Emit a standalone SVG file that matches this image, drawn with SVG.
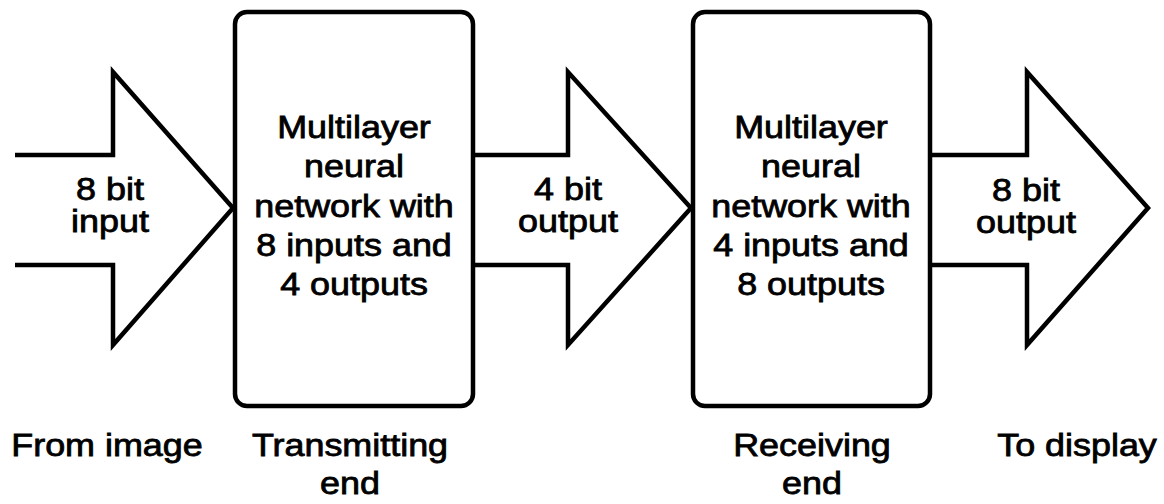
<svg xmlns="http://www.w3.org/2000/svg" width="1164" height="504" viewBox="0 0 1164 504">
  <style>
    .shape { fill: none; stroke: #000; stroke-width: 4.5; stroke-linejoin: miter; }
    .box { fill: #fff; stroke: #000; stroke-width: 4.5; }
    .lbl { font-family: "Liberation Sans", Arial, sans-serif; font-size: 31.5px; fill: #000; stroke: #000; stroke-width: 0.8; text-anchor: middle; }
  </style>
  <rect width="1164" height="504" fill="#fff"/>

  <!-- connectors: broad block arrows between stages -->
  <g id="connectors">
    <path class="shape" d="M15,155 H113 V72 L233,208 L113,345 V265 H15"/>
    <path class="shape" d="M473,155 H568 V72 L691,208 L568,345 V265 H473"/>
    <path class="shape" d="M930,155 H1027 V72 L1148,208 L1027,345 V265 H930"/>
  </g>

  <!-- arrow captions -->
  <g id="in-label" transform="translate(110,0) scale(1.14,1)">
    <text class="lbl" x="0" y="200">8 bit</text>
    <text class="lbl" x="0" y="232">input</text>
  </g>
  <g id="mid-label" transform="translate(568,0) scale(1.14,1)">
    <text class="lbl" x="0" y="200">4 bit</text>
    <text class="lbl" x="0" y="232">output</text>
  </g>
  <g id="out-label" transform="translate(1026,0) scale(1.14,1)">
    <text class="lbl" x="0" y="201">8 bit</text>
    <text class="lbl" x="0" y="233">output</text>
  </g>

  <!-- transmitting network -->
  <g id="encoder">
    <rect class="box" x="235" y="12" width="238" height="394" rx="12"/>
    <g transform="translate(354,0) scale(1.14,1)">
      <text class="lbl" x="0" y="138">Multilayer</text>
      <text class="lbl" x="0" y="177">neural</text>
      <text class="lbl" x="0" y="217">network with</text>
      <text class="lbl" x="0" y="256">8 inputs and</text>
      <text class="lbl" x="0" y="295">4 outputs</text>
    </g>
  </g>

  <!-- receiving network -->
  <g id="decoder">
    <rect class="box" x="693" y="12" width="237" height="394" rx="12"/>
    <g transform="translate(811,0) scale(1.14,1)">
      <text class="lbl" x="0" y="138">Multilayer</text>
      <text class="lbl" x="0" y="177">neural</text>
      <text class="lbl" x="0" y="217">network with</text>
      <text class="lbl" x="0" y="256">4 inputs and</text>
      <text class="lbl" x="0" y="295">8 outputs</text>
    </g>
  </g>

  <!-- stage captions -->
  <g id="source" transform="translate(107,0) scale(1.14,1)">
    <text class="lbl" x="0" y="456">From image</text>
  </g>
  <g id="tx-end" transform="translate(350,0) scale(1.14,1)">
    <text class="lbl" x="0" y="456">Transmitting</text>
    <text class="lbl" x="0" y="494">end</text>
  </g>
  <g id="rx-end" transform="translate(812,0) scale(1.14,1)">
    <text class="lbl" x="0" y="456">Receiving</text>
    <text class="lbl" x="0" y="494">end</text>
  </g>
  <g id="sink" transform="translate(1077,0) scale(1.14,1)">
    <text class="lbl" x="0" y="456">To display</text>
  </g>
</svg>
